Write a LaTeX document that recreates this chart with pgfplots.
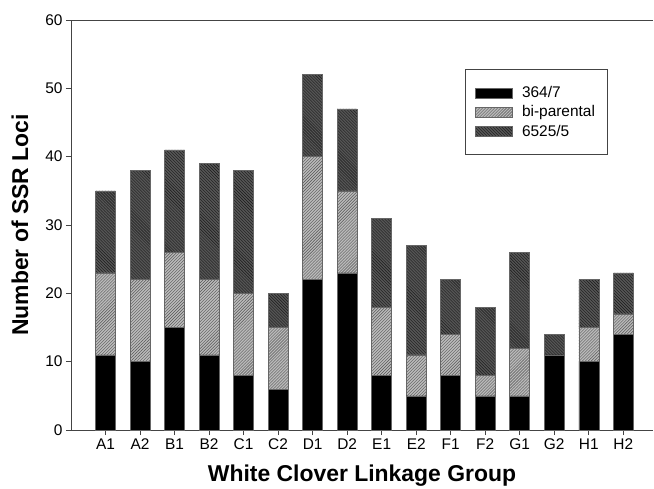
\documentclass[border=0pt]{standalone}
\usepackage{pgfplots}
\pgfplotsset{compat=1.18}
\usepackage{pgfplotstable}
\usetikzlibrary{patterns}
\usepackage{fontspec}
\setmainfont{Liberation Sans}
\definecolor{lightbar}{HTML}{BABABA}
\definecolor{lightstripe}{HTML}{555555}
\definecolor{darkbar}{HTML}{555555}
\definecolor{darkstripe}{HTML}{1A1A1A}
\definecolor{axcol}{HTML}{444444}
\pgfplotstableread{
x a b c
0 11 12 12
1 10 12 16
2 15 11 15
3 11 11 17
4 8 12 18
5 6 9 5
6 22 18 12
7 23 12 12
8 8 10 13
9 5 6 16
10 8 6 8
11 5 3 10
12 5 7 14
13 11 0 3
14 10 5 7
15 14 3 6
}\datatable
\begin{document}
\begin{tikzpicture}
\begin{axis}[
  name=ax,
  scale only axis,
  width=582bp, height=410bp,
  ybar stacked,
  bar width=20bp,
  xmin=-1, xmax=15.86,
  ymin=0, ymax=60,
  ytick={0,10,...,60},
  xtick={0,...,15},
  xticklabels={A1,A2,B1,B2,C1,C2,D1,D2,E1,E2,F1,F2,G1,G2,H1,H2},
  axis x line*=bottom, axis y line*=left,
  axis line style={-, draw=axcol, line width=0.9pt},
  tick align=outside,
  major tick length=5bp,
  tick style={draw=axcol, line width=0.7pt},
  /pgf/number format/assume math mode=true,
  tick label style={font=\fontsize{15.5}{18}\selectfont},
  xlabel={\bfseries White Clover Linkage Group},
  ylabel={\bfseries Number of SSR Loci},
  xlabel style={font=\fontsize{23}{26}\selectfont, at={(rel axis cs:0.5,0)}, anchor=north, inner sep=0pt, yshift=-35bp},
  ylabel style={font=\fontsize{23}{26}\selectfont, at={(rel axis cs:-0.0876,0.5)}, anchor=center, inner sep=0pt},
  legend cell align=left,
  legend image code/.code={\draw[#1] (0bp,-5bp) rectangle (37bp,5bp);},
  legend style={at={(rel axis cs:0.677,0.880)}, anchor=north west,
    font=\fontsize{15.5}{18}\selectfont, draw=axcol, line width=0.8pt,
    inner xsep=10bp, inner ysep=15bp, row sep=2.5bp,
    /tikz/every odd column/.append style={column sep=7bp}},
]
\addplot[fill=black, draw=black!60, line width=0.6pt] table[x=x,y=a] {\datatable};
\addplot[fill=lightbar, draw=black!60, line width=0.6pt, postaction={pattern=north east lines, pattern color=lightstripe}] table[x=x,y=b] {\datatable};
\addplot[fill=darkbar, draw=black!60, line width=0.6pt, postaction={pattern=north west lines, pattern color=darkstripe}] table[x=x,y=c] {\datatable};
\legend{364/7,bi-parental,6525/5}
\draw[axcol, line width=0.9pt] (rel axis cs:0,1) -- (rel axis cs:1,1);
\end{axis}
\pgfresetboundingbox
\path[use as bounding box] ([shift={(-71bp,-59bp)}]ax.south west) rectangle ([shift={(583bp,430bp)}]ax.south west);
\end{tikzpicture}
\end{document}
